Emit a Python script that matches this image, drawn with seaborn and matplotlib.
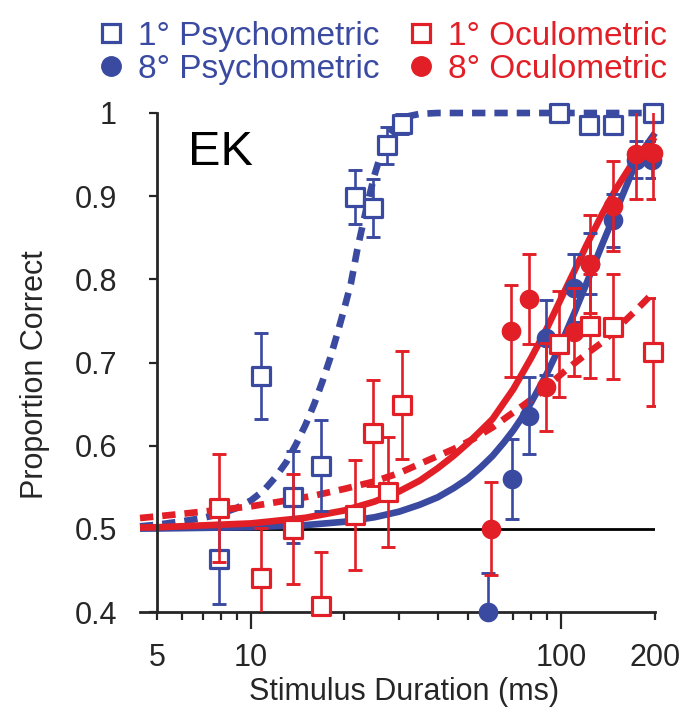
import numpy as np
import pandas as pd
import matplotlib
matplotlib.use("Agg")
import matplotlib.pyplot as plt
from matplotlib.lines import Line2D
from matplotlib.ticker import FixedLocator, FixedFormatter
import seaborn as sns

# ---------------- data ----------------
# 1 deg Psychometric (open blue squares)
psy1_x = [7.9, 10.8, 13.7, 16.8, 21.6, 24.7, 27.5, 30.7, 98.0, 122.5, 147.0, 196.8]
psy1_y = [0.464, 0.684, 0.538, 0.576, 0.899, 0.886, 0.961, 0.987, 1.0, 0.986, 0.986, 1.0]
psy1_e = [0.054, 0.052, 0.055, 0.055, 0.033, 0.035, 0.022, 0.012, 0.0, 0.008, 0.008, 0.0]

# 1 deg Oculometric (open red squares)
ocu1_x = [7.9, 10.8, 13.7, 16.8, 21.6, 24.7, 27.6, 30.7, 98.5, 123.6, 147.0, 196.8]
ocu1_y = [0.525, 0.441, 0.500, 0.407, 0.517, 0.615, 0.544, 0.649, 0.722, 0.744, 0.743, 0.713]
ocu1_e = [0.065, 0.060, 0.066, 0.065, 0.066, 0.064, 0.066, 0.065, 0.064, 0.063, 0.063, 0.065]

# 8 deg Psychometric (filled blue circles)
psy8_x = [58.2, 69.2, 78.5, 89.3, 109.4, 123.6, 147.0, 173.8, 196.0]
psy8_y = [0.400, 0.560, 0.636, 0.730, 0.790, 0.819, 0.871, 0.944, 0.944]
psy8_e = [0.047, 0.048, 0.046, 0.045, 0.041, 0.037, 0.032, 0.022, 0.022]

# 8 deg Oculometric (filled red circles)
ocu8_x = [59.4, 69.0, 78.9, 89.0, 109.4, 123.6, 147.0, 173.8, 196.8]
ocu8_y = [0.500, 0.738, 0.776, 0.671, 0.737, 0.818, 0.888, 0.951, 0.952]
ocu8_e = [0.056, 0.055, 0.054, 0.053, 0.053, 0.059, 0.054, 0.055, 0.055]

# fitted curves
fit_psy1_x = [4.4, 5.0, 6.0, 7.0, 8.0, 9.0, 10.0, 11.0, 12.0, 13.0, 14.0, 15.0, 16.0,
              17.0, 18.0, 19.0, 20.0, 21.0, 22.0, 23.0, 24.0, 25.0, 26.0, 27.0, 28.0,
              30.0, 32.0, 35.0, 40.0, 200.0]
fit_psy1_y = [0.503, 0.505, 0.509, 0.513, 0.518, 0.525, 0.534, 0.546, 0.562, 0.580, 0.602,
              0.625, 0.650, 0.677, 0.705, 0.735, 0.765, 0.795, 0.835, 0.868, 0.898, 0.925,
              0.946, 0.962, 0.975, 0.989, 0.996, 0.999, 1.0, 1.0]

fit_ocu1_x = [4.4, 5.0, 6.0, 8.0, 10.0, 13.0, 16.0, 20.0, 25.0, 30.0, 38.0, 45.0, 52.0,
              60.0, 67.0, 75.0, 85.0, 95.0, 105.0, 120.0, 135.0, 150.0, 175.0, 200.0]
fit_ocu1_y = [0.513, 0.515, 0.518, 0.523, 0.527, 0.534, 0.540, 0.548, 0.557, 0.567, 0.584,
              0.596, 0.608, 0.622, 0.635, 0.648, 0.663, 0.679, 0.693, 0.710, 0.724, 0.740,
              0.764, 0.786]

fit_psy8_x = [4.4, 5.0, 10.0, 15.0, 20.0, 25.0, 30.0, 35.0, 40.0, 45.0, 50.0, 55.0, 60.0,
              65.0, 70.0, 75.0, 80.0, 90.0, 100.0, 110.0, 120.0, 135.0, 150.0, 170.0,
              185.0, 200.0]
fit_psy8_y = [0.5003, 0.5004, 0.502, 0.5045, 0.5085, 0.5139, 0.5206, 0.529, 0.538, 0.549,
              0.5605, 0.574, 0.5877, 0.603, 0.6185, 0.635, 0.6523, 0.6876, 0.7237, 0.7594,
              0.7938, 0.8413, 0.8825, 0.932, 0.958, 0.976]

fit_ocu8_x = [4.4, 5.0, 10.0, 15.0, 20.0, 25.0, 30.0, 35.0, 40.0, 45.0, 50.0, 55.0, 60.0,
              70.0, 80.0, 90.0, 100.0, 110.0, 120.0, 135.0, 150.0, 170.0, 185.0, 200.0]
fit_ocu8_y = [0.5015, 0.5019, 0.5065, 0.5133, 0.5221, 0.5327, 0.5449, 0.558, 0.573, 0.588,
              0.603, 0.618, 0.632, 0.668, 0.706, 0.742, 0.778, 0.810, 0.840, 0.878, 0.909,
              0.941, 0.958, 0.971]

x_major = [10, 100]
x_major_labels = ["10", "100"]
x_minor = [5, 6, 7, 8, 9, 20, 30, 40, 50, 60, 70, 80, 90, 200]
x_minor_labels = ["5", "", "", "", "", "", "", "", "", "", "", "", "", "200"]
y_ticks = [0.4, 0.5, 0.6, 0.7, 0.8, 0.9, 1.0]
y_tick_labels = ["0.4", "0.5", "0.6", "0.7", "0.8", "0.9", "1"]

legend_labels = ["1° Psychometric", "8° Psychometric", "1° Oculometric", "8° Oculometric"]

BLUE = "#3a4aa0"
RED = "#e21f26"

# ---------------- style ----------------
sns.set_style("white")
plt.rcParams["font.family"] = ["Liberation Sans", "DejaVu Sans"]
plt.rcParams["axes.linewidth"] = 2.0

fig = plt.figure(figsize=(6.84, 7.15), dpi=100)
ax = fig.add_axes([140 / 684, 103 / 715, 515 / 684, 499 / 715])
ax.set_xscale("log")
ax.set_xlim(4.4, 200)
ax.set_ylim(0.4, 1.0)

# chance line
ax.axhline(0.5, color="black", lw=2.0, zorder=1.5)

LW = 4.8
dash = (0, (2.0, 1.35))
curves = [
    (fit_psy8_x, fit_psy8_y, BLUE, "-"),
    (fit_psy1_x, fit_psy1_y, BLUE, dash),
    (fit_ocu8_x, fit_ocu8_y, RED, "-"),
    (fit_ocu1_x, fit_ocu1_y, RED, dash),
]
for cx, cy, col, ls in curves:
    df = pd.DataFrame({"x": cx, "y": cy})
    n_before = len(ax.get_lines())
    sns.lineplot(data=df, x="x", y="y", ax=ax, color=col, zorder=2)
    line = ax.get_lines()[n_before]
    line.set_linewidth(LW)
    line.set_linestyle(ls)
    line.set_solid_capstyle("butt")
    line.set_dash_capstyle("butt")
    line.set_clip_on(False)

def draw_points(xs, ys, es, col, filled, z):
    ax.errorbar(xs, ys, yerr=es, fmt="none", ecolor=col, elinewidth=1.9,
                capsize=4.8, capthick=2.1, zorder=z)
    if filled:
        sns.scatterplot(x=xs, y=ys, ax=ax, marker="o", s=200, color=col,
                        edgecolor=col, linewidth=0, zorder=z + 0.5, clip_on=False)
    else:
        sns.scatterplot(x=xs, y=ys, ax=ax, marker="s", s=165, color="white",
                        edgecolor=col, linewidth=2.3, zorder=z + 0.5, clip_on=False)

draw_points(psy8_x, psy8_y, psy8_e, BLUE, True, 3)
draw_points(psy1_x, psy1_y, psy1_e, BLUE, False, 4)
draw_points(ocu8_x, ocu8_y, ocu8_e, RED, True, 5)
draw_points(ocu1_x, ocu1_y, ocu1_e, RED, False, 6)

# axes / spines
sns.despine(ax=ax, top=True, right=True)
ax.spines["left"].set_position(("data", 5))
ax.spines["left"].set_linewidth(2.0)
ax.spines["bottom"].set_linewidth(2.0)

ax.xaxis.set_major_locator(FixedLocator(x_major))
ax.xaxis.set_major_formatter(FixedFormatter(x_major_labels))
ax.xaxis.set_minor_locator(FixedLocator(x_minor))
ax.xaxis.set_minor_formatter(FixedFormatter(x_minor_labels))
ax.tick_params(axis="x", which="major", direction="out", length=12, width=1.6,
               labelsize=22, pad=10, bottom=True)
ax.tick_params(axis="x", which="minor", direction="out", length=6, width=1.6,
               labelsize=22, pad=16, bottom=True)

ax.set_yticks(y_ticks)
ax.set_yticklabels(y_tick_labels)
ax.tick_params(axis="y", which="major", direction="out", length=6, width=1.6,
               labelsize=22, pad=23, left=True)

ax.set_xlabel("Stimulus Duration (ms)", fontsize=22)
ax.xaxis.label.set_va("center")
ax.xaxis.set_label_coords(0.513, -0.16)
ax.set_ylabel("Proportion Correct", fontsize=22)
ax.yaxis.label.set_va("center")
ax.yaxis.set_label_coords(-0.204, 0.475)

ax.text(6.27, 0.9375, "EK", fontsize=35, ha="left", va="baseline", color="black")

# legend
handles = [
    Line2D([], [], marker="s", ls="none", markersize=12.5, markerfacecolor="white",
           markeredgecolor=BLUE, markeredgewidth=2.3),
    Line2D([], [], marker="o", ls="none", markersize=14, markerfacecolor=BLUE,
           markeredgecolor=BLUE),
    Line2D([], [], marker="s", ls="none", markersize=12.5, markerfacecolor="white",
           markeredgecolor=RED, markeredgewidth=2.3),
    Line2D([], [], marker="o", ls="none", markersize=14, markerfacecolor=RED,
           markeredgecolor=RED),
]
leg = fig.legend(handles, legend_labels, ncol=2, frameon=False, fontsize=24,
                 loc="upper left", bbox_to_anchor=(96 / 684, 1 - 21 / 715),
                 borderpad=0, borderaxespad=0, handlelength=0.9,
                 handletextpad=0.35, columnspacing=0.8, labelspacing=0.05)
for t, c in zip(leg.get_texts(), [BLUE, BLUE, RED, RED]):
    t.set_color(c)

fig.savefig("out.png", dpi=100)
